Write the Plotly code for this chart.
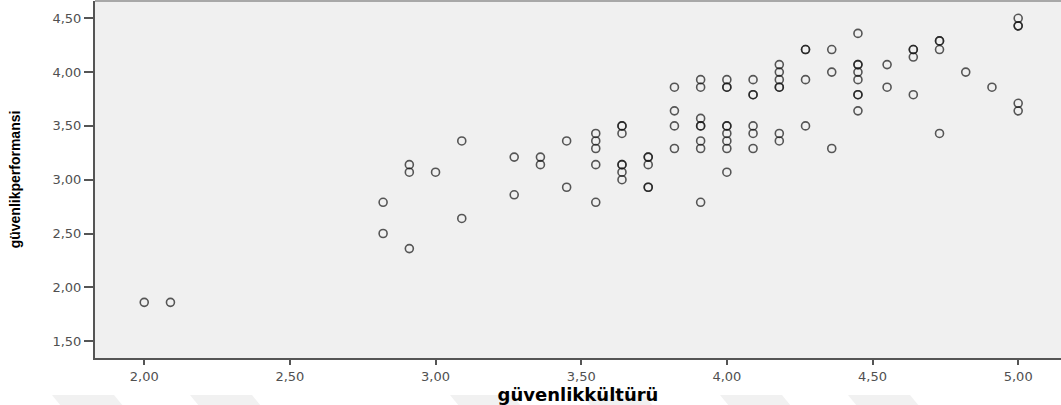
import plotly.graph_objects as go

# Data (x: güvenlikkültürü, y: güvenlikperformansi)
kultur = [
    2.00, 2.09,
    2.82, 2.82,
    2.91, 2.91, 2.91,
    3.00,
    3.09, 3.09,
    3.27, 3.27,
    3.36, 3.36,
    3.45, 3.45,
    3.55, 3.55, 3.55, 3.55, 3.55,
    3.64, 3.64, 3.64, 3.64, 3.64, 3.64, 3.64,
    3.73, 3.73, 3.73, 3.73, 3.73,
    3.82, 3.82, 3.82, 3.82,
    3.91, 3.91, 3.91, 3.91, 3.91, 3.91, 3.91, 3.91,
    4.00, 4.00, 4.00, 4.00, 4.00, 4.00, 4.00, 4.00, 4.00,
    4.09, 4.09, 4.09, 4.09, 4.09, 4.09,
    4.18, 4.18, 4.18, 4.18, 4.18, 4.18, 4.18,
    4.27, 4.27, 4.27, 4.27,
    4.36, 4.36, 4.36,
    4.45, 4.45, 4.45, 4.45, 4.45, 4.45, 4.45, 4.45,
    4.55, 4.55,
    4.64, 4.64, 4.64, 4.64,
    4.73, 4.73, 4.73, 4.73,
    4.82,
    4.91,
    5.00, 5.00, 5.00, 5.00, 5.00,
]
performans = [
    1.86, 1.86,
    2.79, 2.50,
    3.14, 3.07, 2.36,
    3.07,
    3.36, 2.64,
    3.21, 2.86,
    3.21, 3.14,
    3.36, 2.93,
    3.43, 3.36, 3.29, 3.14, 2.79,
    3.50, 3.50, 3.43, 3.14, 3.14, 3.07, 3.00,
    3.21, 3.21, 3.14, 2.93, 2.93,
    3.86, 3.64, 3.50, 3.29,
    3.93, 3.86, 3.57, 3.50, 3.50, 3.36, 3.29, 2.79,
    3.93, 3.86, 3.86, 3.50, 3.50, 3.43, 3.36, 3.29, 3.07,
    3.93, 3.79, 3.79, 3.50, 3.43, 3.29,
    4.07, 4.00, 3.93, 3.86, 3.86, 3.43, 3.36,
    4.21, 4.21, 3.93, 3.50,
    4.21, 4.00, 3.29,
    4.36, 4.07, 4.07, 4.00, 3.93, 3.79, 3.79, 3.64,
    4.07, 3.86,
    4.21, 4.21, 4.14, 3.79,
    4.29, 4.29, 4.21, 3.43,
    4.00,
    3.86,
    4.50, 4.43, 4.43, 3.71, 3.64,
]

x_ticks = [2.0, 2.5, 3.0, 3.5, 4.0, 4.5, 5.0]
x_ticktext = ["2,00", "2,50", "3,00", "3,50", "4,00", "4,50", "5,00"]
y_ticks = [1.5, 2.0, 2.5, 3.0, 3.5, 4.0, 4.5]
y_ticktext = ["1,50", "2,00", "2,50", "3,00", "3,50", "4,00", "4,50"]

x_title = "güvenlikkültürü"
y_title = "güvenlikperformansi"

fig = go.Figure(
    go.Scatter(
        x=kultur,
        y=performans,
        mode="markers",
        marker=dict(
            symbol="circle-open",
            size=8,
            color="rgba(25,25,25,0.72)",
            line=dict(width=1.6),
        ),
        hoverinfo="x+y",
    )
)

axis_common = dict(
    showgrid=False,
    zeroline=False,
    showline=True,
    linecolor="#555555",
    linewidth=2,
    ticks="outside",
    tickcolor="#555555",
    tickwidth=1.5,
    tickfont=dict(family="DejaVu Sans, Arial, sans-serif", size=13, color="#505050"),
)

fig.update_layout(
    width=1061,
    height=405,
    margin=dict(l=95, r=0, t=1, b=47, autoexpand=False),
    paper_bgcolor="white",
    plot_bgcolor="#F0F0F0",
    showlegend=False,
    xaxis=dict(
        range=[1.831, 5.147],
        tickmode="array",
        tickvals=x_ticks,
        ticktext=x_ticktext,
        ticklen=5,
        title=dict(
            text=x_title,
            standoff=3,
            font=dict(family="DejaVu Sans, Verdana, sans-serif", size=18,
                      color="black", weight="bold"),
        ),
        automargin=False,
        **axis_common,
    ),
    yaxis=dict(
        range=[1.343, 4.661],
        tickmode="array",
        tickvals=y_ticks,
        ticktext=y_ticktext,
        ticklen=9,
        title=dict(
            text=y_title,
            standoff=29,
            font=dict(family="Liberation Sans Narrow, Arial Narrow, Liberation Sans, sans-serif",
                      size=14, color="black", weight="bold"),
        ),
        automargin=False,
        **axis_common,
    ),
)

# light top border of the plot frame
fig.add_shape(type="line", xref="paper", yref="paper", x0=0, x1=1, y0=1, y1=1,
              line=dict(color="#a8a8a8", width=2))

# faint watermark bands along the bottom edge
wm_x = [52, 190, 450, 582, 720, 848]
wm_w = 62
for px in wm_x:
    x0 = (px - 95) / 966
    x1 = (px + wm_w - 95) / 966
    dx = 9 / 966
    ytop = (358 - 395) / 357
    ybot = (358 - 406) / 357
    fig.add_shape(
        type="path",
        xref="paper", yref="paper",
        path=f"M {x0},{ytop} L {x1},{ytop} L {x1+dx},{ybot} L {x0+dx},{ybot} Z",
        fillcolor="#f1f1f1", line=dict(width=0), layer="below",
    )

fig.write_html(
    "out.html",
    config={"displayModeBar": False},
    post_script="document.body.style.margin='0px';document.body.style.padding='0px';",
)
